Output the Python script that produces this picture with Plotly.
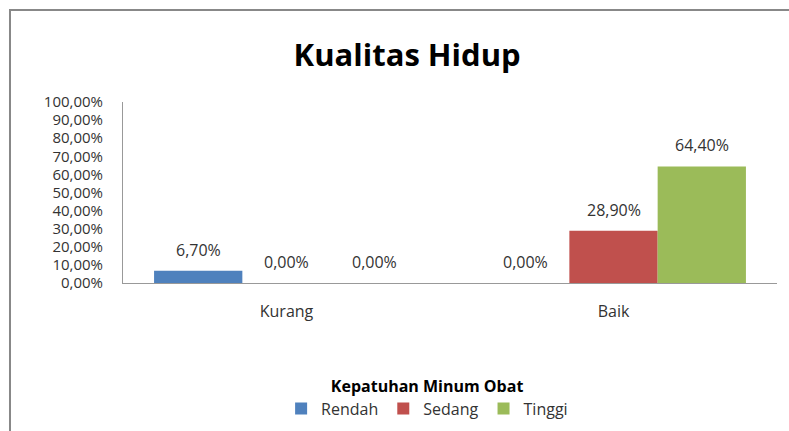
import plotly.graph_objects as go

categories = ["Kurang", "Baik"]
series_names = ["Rendah", "Sedang", "Tinggi"]
rendah = [0.067, 0.0]
sedang = [0.0, 0.289]
tinggi = [0.0, 0.644]
colors = ["#4F81BD", "#C0504D", "#9BBB59"]
tick_vals = [i / 10 for i in range(11)]

FONT = "Open Sans"
BARGAP = 0.19
fig = go.Figure()
all_series = [rendah, sedang, tinggi]
for name, vals, col in zip(series_names, all_series, colors):
    fig.add_trace(go.Bar(
        x=categories, y=vals, name=name, marker=dict(color=col, line=dict(width=0)),
        cliponaxis=False,
    ))

# value labels placed above each bar through the axes' scales
bar_w = (1 - BARGAP) / len(all_series)
annotations = []
for i, vals in enumerate(all_series):
    off = (i - (len(all_series) - 1) / 2) * bar_w
    for j, v in enumerate(vals):
        annotations.append(dict(
            x=j + off, y=v, xref="x", yref="y", yshift=21, showarrow=False,
            text=f"{v * 100:.2f}%".replace(".", ","), yanchor="middle",
            font=dict(family=FONT, size=16, color="#333333")))

fig.update_layout(
    width=789, height=431,
    margin=dict(l=123, r=12, t=102, b=148, autoexpand=False),
    paper_bgcolor="white", plot_bgcolor="white",
    separators=",.",
    barmode="group", bargap=BARGAP, bargroupgap=0,
    title=dict(text="<b>Kualitas Hidup</b>", x=0.516, xanchor="center", y=0.872, yanchor="middle",
               font=dict(family=FONT, size=31, color="black")),
    font=dict(family=FONT, size=16, color="#333333"),
    yaxis=dict(range=[0, 1], tickvals=tick_vals, tickformat=".2%", showgrid=False,
               showline=True, linecolor="#999999", linewidth=1, ticks="", zeroline=False,
               ticklabelstandoff=16, automargin=False,
               tickfont=dict(family=FONT, size=15, color="#333333")),
    xaxis=dict(showline=True, linecolor="#999999", linewidth=1, ticks="", showgrid=False,
               ticklabelstandoff=14, automargin=False,
               tickfont=dict(family=FONT, size=16, color="#333333")),
    legend=dict(orientation="h", x=0.465, xanchor="center", y=-0.485, yanchor="top",
                title=dict(text="<b>Kepatuhan Minum Obat</b>", side="top center",
                           font=dict(family=FONT, size=16, color="black")),
                font=dict(family=FONT, size=16, color="#333333"),
                itemwidth=30, tracegroupgap=0),
    annotations=annotations,
    shapes=[dict(type="rect", xref="paper", yref="paper", x0=-0.1728, x1=1.2, y0=-1.0, y1=1.508,
                 line=dict(color="#888888", width=2), fillcolor="rgba(0,0,0,0)", layer="below")],
    showlegend=True,
)
fig.write_html("out.html", config={"displayModeBar": False},
               post_script="document.body.style.margin='0';document.body.style.overflow='hidden';")
